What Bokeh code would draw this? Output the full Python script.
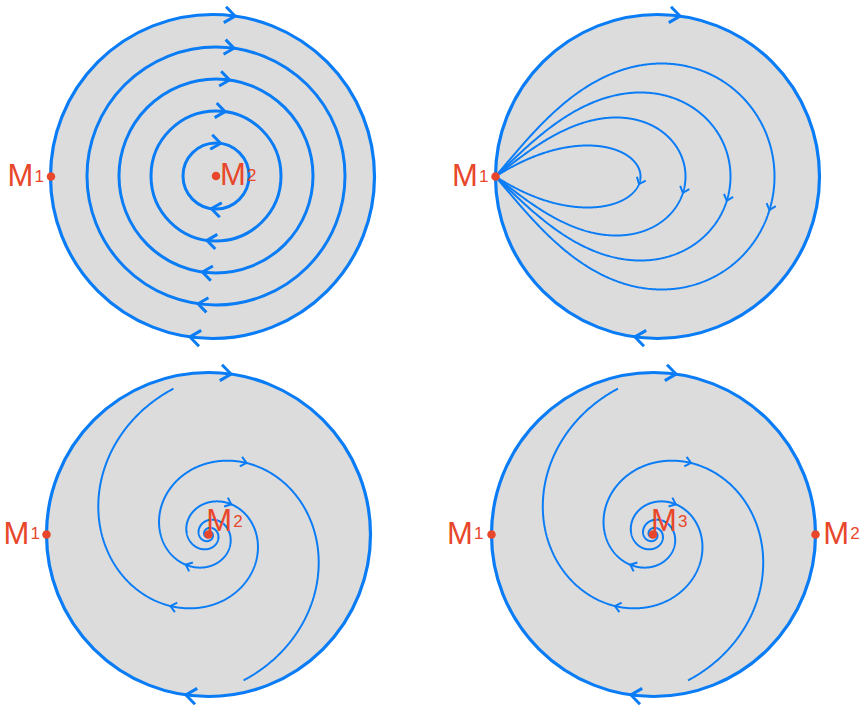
import numpy as np
from bokeh.plotting import figure
from bokeh.models import Range1d
from bokeh.embed import file_html
from bokeh.resources import INLINE
from bokeh.core.properties import value

BLUE = "#0a7cf5"
GRAY = "#dcdcdc"
RED = "#e8472b"
FONT = "Liberation Sans"

# ---------------- data (page pixels, y measured downwards) ----------------
disk_cx = [212.0, 657.0, 208.0, 653.0]
disk_cy = [176.0, 176.0, 534.0, 534.0]
disk_r = 162.0
boundary_arrow_offset_deg = 8.0

# panel 1: centre M2 surrounded by closed orbits
centre1_x, centre1_y = 215.5, 175.5
orbit_r = [33.0, 65.0, 97.0, 129.0]
orbit_arrow_offset_deg = 8.0

# panel 2: loops leaving and returning to M1
loop_origin_x, loop_origin_y = 495.0, 176.0
loop_reach = [145.0, 190.0, 235.0, 279.0]
loop_half_height = [31.0, 59.0, 84.0, 113.0]
loop_depart_deg = [32.0, 38.0, 44.0, 50.0]
loop_arrow_deg = [-3.0, -5.0, -6.0, -7.0]

# panels 3-4: unstable focus with two spiral arms
focus_x = [208.0, 652.5]
focus_y = [534.0, 534.0]
spiral_outer_r = 150.0
spiral_outer_deg = 103.5
spiral_growth = 0.255
spiral_inner_r = 3.0
spiral_arrow_deg = [242.0, 413.0]

# singular points
pts_x = [50.5, 215.5, 495.0, 46.0, 208.0, 491.0, 652.5, 815.0]
pts_y = [176.0, 175.5, 176.0, 534.0, 534.0, 534.0, 534.0, 534.0]

# labels: main letter, subscript, left x, baseline y
lab_main = ["M", "M", "M", "M", "M", "M", "M", "M"]
lab_sub = ["1", "2", "1", "1", "2", "1", "3", "2"]
lab_x = [7.0, 219.4, 451.4, 3.0, 205.7, 446.4, 650.4, 822.7]
lab_y = [175.0, 174.0, 175.0, 532.7, 520.0, 532.7, 520.0, 532.7]
sub_dx = 27.0

# ---------------- figure ----------------
W, H = 864, 707
p = figure(width=W, height=H, x_range=Range1d(0, W), y_range=Range1d(-H, 0),
           output_backend="svg", toolbar_location=None, x_axis_type=None, y_axis_type=None,
           min_border=0, outline_line_color=None)
p.grid.visible = False
p.background_fill_color = "white"
p.border_fill_color = "white"


def chevron(tx, ty, dx, dy, length, half_deg):
    n = np.hypot(dx, dy)
    dx, dy = dx / n, dy / n
    a = np.radians(half_deg)
    pts = []
    for s in (1, -1):
        ca, sa = np.cos(s * a), np.sin(s * a)
        bx = -(dx * ca - dy * sa)
        by = -(dx * sa + dy * ca)
        pts.append((tx + length * bx, ty + length * by))
    return [pts[0][0], tx, pts[1][0]], [pts[0][1], ty, pts[1][1]]


def circle_arrows(cx, cy, R, off_deg):
    out = []
    for base in (90.0, 270.0):
        phi = np.radians(base - off_deg)
        tx, ty = cx + R * np.cos(phi), cy + R * np.sin(phi)
        out.append((tx, ty, np.sin(phi), -np.cos(phi)))
    return out


big_ax, big_ay = [], []
small_ax, small_ay = [], []

# disks
p.circle(x=disk_cx, y=[-v for v in disk_cy], radius=disk_r, fill_color=GRAY,
         line_color=BLUE, line_width=3.2)
for cx, cy in zip(disk_cx, disk_cy):
    for tx, ty, dx, dy in circle_arrows(cx, -cy, disk_r, boundary_arrow_offset_deg):
        xs, ys = chevron(tx, ty, dx, dy, 13, 38)
        big_ax.append(xs); big_ay.append(ys)

# panel 1 orbits
p.circle(x=[centre1_x] * len(orbit_r), y=[-centre1_y] * len(orbit_r), radius=orbit_r,
         fill_color=None, line_color=BLUE, line_width=3)
for R in orbit_r:
    for tx, ty, dx, dy in circle_arrows(centre1_x, -centre1_y, R, orbit_arrow_offset_deg):
        xs, ys = chevron(tx, ty, dx, dy, 12, 38)
        big_ax.append(xs); big_ay.append(ys)

# panel 2 loops
loop_xs, loop_ys = [], []
ox, oy = loop_origin_x, -loop_origin_y
for a, h, dep, arr in zip(loop_reach, loop_half_height, loop_depart_deg, loop_arrow_deg):
    T = np.radians(dep)
    th = np.linspace(T, -T, 600)
    c = np.clip(np.cos(np.pi * th / (2 * T)), 0, None)
    lo, hi = 1e-3, 30.0
    for _ in range(60):
        mid = 0.5 * (lo + hi)
        if np.max(a * c ** mid * np.sin(th)) > h:
            lo = mid
        else:
            hi = mid
    q = 0.5 * (lo + hi)
    r = a * c ** q
    loop_xs.append(list(ox + r * np.cos(th)))
    loop_ys.append(list(oy + r * np.sin(th)))

    def pos(t):
        rr = a * np.cos(np.pi * t / (2 * T)) ** q
        return ox + rr * np.cos(t), oy + rr * np.sin(t)
    ta = np.radians(arr)
    x0, y0 = pos(ta)
    x1, y1 = pos(ta - 0.01)
    xs, ys = chevron(x0, y0, x1 - x0, y1 - y0, 7.5, 40)
    small_ax.append(xs); small_ay.append(ys)
p.multi_line(xs=loop_xs, ys=loop_ys, line_color=BLUE, line_width=2)

# panels 3-4 spirals
b = spiral_growth
phi0 = np.radians(spiral_outer_deg)
dmax = np.log(spiral_outer_r / spiral_inner_r) / b
phi = phi0 + np.linspace(0, dmax, 2000)
rr = spiral_outer_r * np.exp(-b * (phi - phi0))
sp_xs, sp_ys = [], []
for fx, fy in zip(focus_x, focus_y):
    for rot in (0.0, np.pi):
        sp_xs.append(list(fx + rr * np.cos(phi + rot)))
        sp_ys.append(list(-fy + rr * np.sin(phi + rot)))
        for ad in spiral_arrow_deg:
            pa = np.radians(ad)
            def spos(t):
                R = spiral_outer_r * np.exp(-b * (t - phi0))
                return fx + R * np.cos(t + rot), -fy + R * np.sin(t + rot)
            x0, y0 = spos(pa)
            x1, y1 = spos(pa - 0.01)
            xs, ys = chevron(x0, y0, x1 - x0, y1 - y0, 7.5, 40)
            small_ax.append(xs); small_ay.append(ys)
p.multi_line(xs=sp_xs, ys=sp_ys, line_color=BLUE, line_width=2)

# arrows
p.multi_line(xs=big_ax, ys=big_ay, line_color=BLUE, line_width=3, line_join="miter")
p.multi_line(xs=small_ax, ys=small_ay, line_color=BLUE, line_width=2, line_join="miter")

# points
p.scatter(x=pts_x, y=[-v for v in pts_y], size=8.5, fill_color=RED, line_color=None)

# labels
p.text(x=lab_x, y=[-v for v in lab_y], text=lab_main, text_font=value(FONT),
       text_font_size="31px", text_color=RED, text_baseline="alphabetic", text_align="left")
p.text(x=[v + sub_dx for v in lab_x], y=[-v for v in lab_y], text=lab_sub, text_font=value(FONT),
       text_font_size="17px", text_color=RED, text_baseline="alphabetic", text_align="left")

open("out.html", "w").write(file_html(p, INLINE))
